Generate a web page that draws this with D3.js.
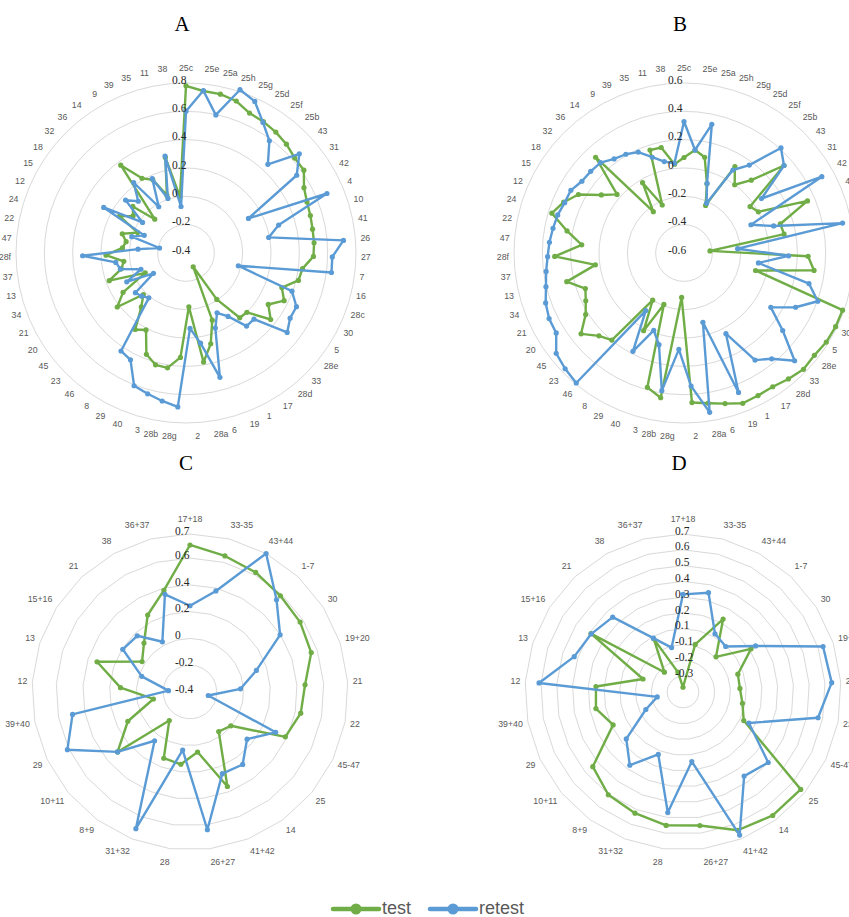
<!DOCTYPE html>
<html>
<head>
<meta charset="utf-8">
<script src="https://cdn.jsdelivr.net/npm/d3@7"></script>
<style>
  body { margin: 0; background: #fff; }
  svg { display: block; }
</style>
</head>
<body>
<div id="chart"></div>
<script>
// categories (clockwise from top)
const catsAB = ["25c","25e","25a","25h","25g","25d","25f","25b","43","31","42","4","10","41","26","27","7","16","28c","30",
  "5","28e","33","28d","17","1","19","6","28a","2","28g","28b","3","40","29","8","46","23","45","20",
  "21","34","13","37","28f","47","22","24","12","15","18","32","36","14","9","39","35","11","38"];
const catsCD = ["17+18","33-35","43+44","1-7","30","19+20","21","22","45-47","25","14","41+42","26+27","28",
  "31+32","8+9","10+11","29","39+40","12","13","15+16","21","38","36+37"];

// series values
const testA = [0.78,0.75,0.747,0.73,0.685,0.676,0.663,0.645,0.619,0.617,
  0.552,0.527,0.517,0.509,0.507,0.50,0.43,0.417,0.319,0.37,
  0.285,0.36,0.20,0.194,-0.007,-0.29,0.109,0.264,0.38,-0.02,
  0.338,0.421,0.418,0.368,0.212,0.248,0.094,0.02,0.217,0.124,
  -0.08,0.176,0.07,0.043,0.165,0.05,0.03,0.07,-0.03,0.136,
  0.056,0.099,-0.075,0.372,0.212,0.167,0.03,0.29,0.0];
const retestA = [0.60,0.753,0.597,0.814,0.775,0.67,0.587,0.452,0.663,0.555,
  0.104,0.68,0.283,0.194,0.715,0.633,0.636,-0.02,0.395,0.467,
  0.467,0.508,0.27,0.27,0.137,0.076,0.169,0.51,0.245,0.133,
  0.688,0.658,0.63,0.606,0.45,0.43,0.011,0.037,0.054,-0.129,
  0.065,-0.062,0.077,0.10,0.33,-0.06,-0.21,0.0,-0.08,0.264,
  -0.025,0.167,0.097,0.22,-0.021,0.176,0.006,0.30,-0.07];
const testB = [0.074,0.131,0.091,-0.085,-0.231,0.108,0.0,0.10,0.338,-0.03,
  0.0,0.346,0.11,0.119,-0.416,0.276,0.326,-0.08,0.59,0.59,
  0.585,0.57,0.577,0.555,0.533,0.534,0.539,0.502,0.474,0.457,
  -0.286,0.435,0.383,-0.21,0.018,-0.2,0.198,0.238,0.324,0.219,
  0.171,0.14,0.252,0.031,0.313,0.124,0.24,0.374,0.322,0.252,
  0.113,0.028,0.32,-0.237,-0.024,-0.228,0.165,0.162,0.03];
const retestB = [0.328,0.131,0.329,-0.082,-0.214,0.08,0.173,0.409,0.338,0.069,
  0.512,-0.087,0.061,0.539,-0.22,0.139,-0.07,0.308,0.404,0.276,
  0.123,0.286,0.49,0.37,0.307,0.042,0.457,-0.093,0.539,0.341,
  0.081,0.384,0.071,-0.013,0.182,-0.112,0.592,0.571,0.547,0.464,
  0.459,0.438,0.403,0.382,0.363,0.353,0.341,0.331,0.314,0.313,
  0.281,0.275,0.268,0.227,0.209,0.182,0.112,0.06,0.037];
const testC = [0.698,0.649,0.619,0.586,0.574,0.552,0.461,0.442,0.387,-0.004,
  -0.035,0.359,0.052,0.144,0.132,-0.137,0.302,0.113,-0.122,0.12,
  0.33,0.024,0.102,0.256,0.384];
const retestC = [0.244,0.379,0.78,0.544,0.397,0.121,-0.022,-0.261,0.307,0.153,
  0.269,0.256,0.637,0.037,0.698,0.05,0.302,0.612,0.493,-0.239,
  -0.021,0.195,0.176,0.028,0.353];
const testD = [-0.32,-0.039,0.177,-0.045,0.16,0.015,0.011,0.033,0.075,0.617,
  0.616,0.591,0.502,0.501,0.475,0.454,0.391,0.139,0.211,0.202,
  -0.084,0.34,-0.178,0.034,-0.22];
const retestD = [0.268,0.299,0.07,0.045,0.194,0.582,0.593,0.52,0.111,0.35,
  0.308,0.624,0.094,0.419,0.075,0.223,0.116,-0.09,-0.184,0.563,
  0.374,0.337,0.30,0.039,-0.06];

// radial axis ticks and their printed labels
const ticksA = [-0.4,-0.2,0,0.2,0.4,0.6,0.8];
const tickLabelsA = ["-0.4","-0.2","0","0.2","0.4","0.6","0.8"];
const ticksB = [-0.6,-0.4,-0.2,0,0.2,0.4,0.6];
const tickLabelsB = ["-0.6","-0.4","-0.2","0","0.2","0.4","0.6"];
const ticksC = [-0.4,-0.2,0,0.2,0.4,0.6,0.78];
const tickLabelsC = ["-0.4","-0.2","0","0.2","0.4","0.6","0.7"];
const ticksD = [-0.35,-0.25,-0.15,-0.05,0.05,0.15,0.25,0.35,0.45,0.55,0.65];
const tickLabelsD = ["","-0.3","-0.2","-0.1","0.1","0.2","0.3","0.4","0.5","0.6","0.7"];

const seriesNames = ["test","retest"];
const colors = ["#70AD47","#5B9BD5"];

const panels = [
  {title:"A", cx:186, cy:253, R:170, cats:catsAB, vals:[testA,retestA], ticks:ticksA, labels:tickLabelsA, round:true,  tdx:-14},
  {title:"B", cx:684, cy:253, R:170, cats:catsAB, vals:[testB,retestB], ticks:ticksB, labels:tickLabelsB, round:true,  tdx:-16},
  {title:"C", cx:190, cy:692, R:158, cats:catsCD, vals:[testC,retestC], ticks:ticksC, labels:tickLabelsC, round:false, tdx:-15},
  {title:"D", cx:683, cy:692, R:158, cats:catsCD, vals:[testD,retestD], ticks:ticksD, labels:tickLabelsD, round:false, tdx:-8}
];

const W = 849, H = 917;
const svg = d3.select("#chart").append("svg")
  .attr("width", W).attr("height", H)
  .attr("viewBox", `0 0 ${W} ${H}`);

panels.forEach(p => {
  const n = p.cats.length;
  const r = d3.scaleLinear().domain([p.ticks[0], p.ticks[p.ticks.length-1]]).range([0, p.R]);
  const a = d3.scaleLinear().domain([0, n]).range([0, 2*Math.PI]);

  svg.append("text")
    .attr("x", p.cx - 4).attr("y", p.cy - 222)
    .attr("text-anchor", "middle")
    .style("font-family", "'Liberation Serif', serif")
    .style("font-size", "21px")
    .text(p.title);

  const g = svg.append("g").attr("transform", `translate(${p.cx},${p.cy})`);

  // gridlines
  const grid = g.append("g").attr("fill", "none").attr("stroke", "#d9d9d9").attr("stroke-width", 1);
  p.ticks.slice(1).forEach(t => {
    if (p.round) {
      grid.append("circle").attr("r", r(t));
    } else {
      grid.append("path").attr("d", d3.lineRadial()
        .angle((d,i) => a(i))
        .radius(r(t))
        .curve(d3.curveLinearClosed)(p.cats));
    }
  });

  // series
  const line = d3.lineRadial()
    .angle((d,i) => a(i))
    .radius(d => r(d))
    .curve(d3.curveLinearClosed);

  p.vals.forEach((vals, k) => {
    const s = g.append("g");
    s.append("path")
      .attr("d", line(vals))
      .attr("fill", "none")
      .attr("stroke", colors[k])
      .attr("stroke-width", 2.4)
      .attr("stroke-linejoin", "round");
    s.selectAll("circle").data(vals).join("circle")
      .attr("cx", (d,i) => r(d) * Math.sin(a(i)))
      .attr("cy", (d,i) => -r(d) * Math.cos(a(i)))
      .attr("r", 2.6)
      .attr("fill", colors[k]);
  });

  // radial value labels
  g.append("g").selectAll("text").data(p.ticks).join("text")
    .attr("x", p.tdx)
    .attr("y", d => -r(d) - 2)
    .attr("dominant-baseline", "middle")
    .style("font-family", "'Liberation Serif', serif")
    .style("font-size", "11.5px")
    .attr("fill", "#262626")
    .text((d,i) => p.labels[i]);

  // category labels
  g.append("g").selectAll("text").data(p.cats).join("text")
    .each(function(d, i) {
      const th = a(i), sn = Math.sin(th), cs = Math.cos(th);
      d3.select(this)
        .attr("x", (p.R + 5) * sn)
        .attr("y", -(p.R + 5) * cs - 9 * cs)
        .attr("text-anchor", sn > 0.03 ? "start" : sn < -0.03 ? "end" : "middle");
    })
    .attr("dominant-baseline", "middle")
    .style("font-family", "'Liberation Sans', sans-serif")
    .style("font-size", "8.8px")
    .attr("fill", "#595959")
    .text(d => d);
});

// legend
const legend = svg.append("g").attr("transform", "translate(333,909)");
seriesNames.forEach((name, k) => {
  const lg = legend.append("g").attr("transform", `translate(${k * 97},0)`);
  lg.append("line").attr("x1", 0).attr("x2", 46).attr("stroke", colors[k])
    .attr("stroke-width", 4.5).attr("stroke-linecap", "round");
  lg.append("circle").attr("cx", 23).attr("r", 5.5).attr("fill", colors[k]);
  lg.append("text").attr("x", 49).attr("y", 0)
    .attr("dominant-baseline", "middle")
    .style("font-family", "'Liberation Sans', sans-serif")
    .style("font-size", "18px")
    .attr("fill", "#595959")
    .text(name);
});
</script>
</body>
</html>
